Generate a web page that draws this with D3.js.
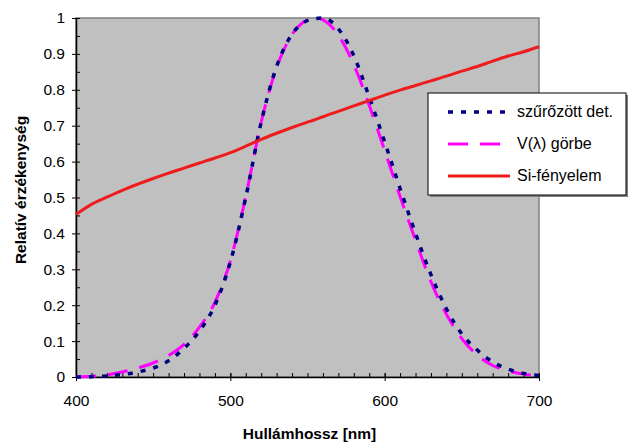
<!DOCTYPE html>
<html>
<head>
<meta charset="utf-8">
<script src="https://cdn.jsdelivr.net/npm/d3@7"></script>
<style>
  body { margin: 0; background: #fff; }
  text { font-family: Arial, "Liberation Sans", sans-serif; }
</style>
</head>
<body>
<div id="chart"></div>
<script>
// wavelength grid (nm)
const wavelengths = [400, 410, 420, 430, 440, 450, 460, 470, 480, 490, 500, 510, 520, 530, 540, 550, 555,
                     560, 570, 580, 590, 600, 610, 620, 630, 640, 650, 660, 670, 680, 690, 700];

// V(lambda) curve
const vLambda = [0.0004, 0.002, 0.006, 0.014, 0.025, 0.039, 0.06, 0.091, 0.139, 0.208, 0.323, 0.503, 0.71,
                 0.862, 0.954, 0.995, 1.0, 0.995, 0.952, 0.87, 0.757, 0.631, 0.503, 0.381, 0.265, 0.175,
                 0.107, 0.061, 0.032, 0.017, 0.008, 0.004];

// filtered detector
const filtered = [0, 0.001, 0.003, 0.007, 0.014, 0.025, 0.045, 0.08, 0.128, 0.2, 0.32, 0.5, 0.71,
                  0.865, 0.955, 0.993, 0.998, 1.0, 0.97, 0.895, 0.78, 0.655, 0.525, 0.4, 0.285, 0.19,
                  0.12, 0.075, 0.042, 0.022, 0.01, 0.004];

// Si photodiode
const silicon = [0.453, 0.481, 0.501, 0.52, 0.537, 0.553, 0.568, 0.582, 0.596, 0.61, 0.625, 0.643, 0.662,
                 0.679, 0.695, 0.71, 0.717, 0.725, 0.74, 0.755, 0.77, 0.785, 0.799, 0.812, 0.825, 0.838,
                 0.852, 0.865, 0.88, 0.894, 0.906, 0.92];

const xTicks = [400, 500, 600, 700];
const yTicks = [0, 0.1, 0.2, 0.3, 0.4, 0.5, 0.6, 0.7, 0.8, 0.9, 1];

const legendItems = [
    { label: "szűrőzött det.", color: "#000080", dash: "5,8", width: 3.5 },
    { label: "V(λ) görbe", color: "#ff00ff", dash: "20,12", width: 3 },
    { label: "Si-fényelem", color: "#ee1c1c", dash: null, width: 3 }
];

const width = 630, height = 444;
const margin = { top: 18, right: 91, bottom: 67, left: 76 };

const svg = d3.select("#chart").append("svg")
    .attr("width", width)
    .attr("height", height);

const x = d3.scaleLinear().domain([400, 700]).range([margin.left, width - margin.right]);
const y = d3.scaleLinear().domain([0, 1]).range([height - margin.bottom, margin.top]);

// plot area
svg.append("rect")
    .attr("x", x(400)).attr("y", y(1))
    .attr("width", x(700) - x(400)).attr("height", y(0) - y(1))
    .attr("fill", "#c0c0c0")
    .attr("stroke", "#808080")
    .attr("stroke-width", 1.5);

// minor ticks (inside)
svg.append("g")
    .attr("transform", `translate(0,${y(0)})`)
    .call(d3.axisBottom(x).tickValues(d3.range(410, 700, 10)).tickSize(-4).tickFormat(""))
    .call(g => g.select(".domain").remove());

svg.append("g")
    .attr("transform", `translate(${x(400)},0)`)
    .call(d3.axisLeft(y).tickValues(d3.range(0.05, 1, 0.1)).tickSize(-4).tickFormat(""))
    .call(g => g.select(".domain").remove());

// major axes
const xAxis = svg.append("g")
    .attr("transform", `translate(0,${y(0)})`)
    .call(d3.axisBottom(x).tickValues(xTicks).tickSize(4).tickPadding(14).tickSizeOuter(0));
xAxis.selectAll(".tick line").attr("y1", -4);
xAxis.selectAll("text").style("font-size", "15.5px").attr("fill", "#000");

const yAxis = svg.append("g")
    .attr("transform", `translate(${x(400)},0)`)
    .call(d3.axisLeft(y).tickValues(yTicks).tickSize(4).tickPadding(7).tickSizeOuter(0)
        .tickFormat(d => d === 0 || d === 1 ? d : d.toFixed(1)));
yAxis.selectAll(".tick line").attr("x1", 4);
yAxis.selectAll("text").style("font-size", "15.5px").attr("fill", "#000");

svg.selectAll(".domain").attr("stroke", "#000").attr("stroke-width", 1.5);

// curves
const line = series => d3.line()
    .x((d, i) => x(wavelengths[i]))
    .y(d => y(d))
    .curve(d3.curveMonotoneX)(series);

svg.append("path")
    .attr("d", line(vLambda))
    .attr("fill", "none")
    .attr("stroke", legendItems[1].color)
    .attr("stroke-width", legendItems[1].width)
    .attr("stroke-dasharray", legendItems[1].dash);

svg.append("path")
    .attr("d", line(filtered))
    .attr("fill", "none")
    .attr("stroke", legendItems[0].color)
    .attr("stroke-width", legendItems[0].width)
    .attr("stroke-dasharray", legendItems[0].dash);

svg.append("path")
    .attr("d", line(silicon))
    .attr("fill", "none")
    .attr("stroke", legendItems[2].color)
    .attr("stroke-width", legendItems[2].width);

// axis titles
svg.append("text")
    .attr("x", (x(400) + x(700)) / 2 + 2)
    .attr("y", 439)
    .attr("text-anchor", "middle")
    .style("font-size", "15.5px")
    .style("font-weight", "bold")
    .text("Hullámhossz [nm]");

svg.append("text")
    .attr("transform", "translate(26,190) rotate(-90)")
    .attr("text-anchor", "middle")
    .style("font-size", "15.5px")
    .style("font-weight", "bold")
    .text("Relatív érzékenység");

// legend
const legend = svg.append("g").attr("transform", "translate(428,93)");
legend.append("rect")
    .attr("x", 2).attr("y", 2).attr("width", 198).attr("height", 102)
    .attr("fill", "#808080");
legend.append("rect")
    .attr("width", 198).attr("height", 102)
    .attr("fill", "#fff")
    .attr("stroke", "#000")
    .attr("stroke-width", 1);

legendItems.forEach((item, i) => {
    const ly = 19 + i * 32;
    legend.append("line")
        .attr("x1", 20).attr("x2", 82)
        .attr("y1", ly).attr("y2", ly)
        .attr("stroke", item.color)
        .attr("stroke-width", item.width)
        .attr("stroke-dasharray", item.dash);
    legend.append("text")
        .attr("x", 89).attr("y", ly + 5)
        .style("font-size", "16px")
        .text(item.label);
});
</script>
</body>
</html>
